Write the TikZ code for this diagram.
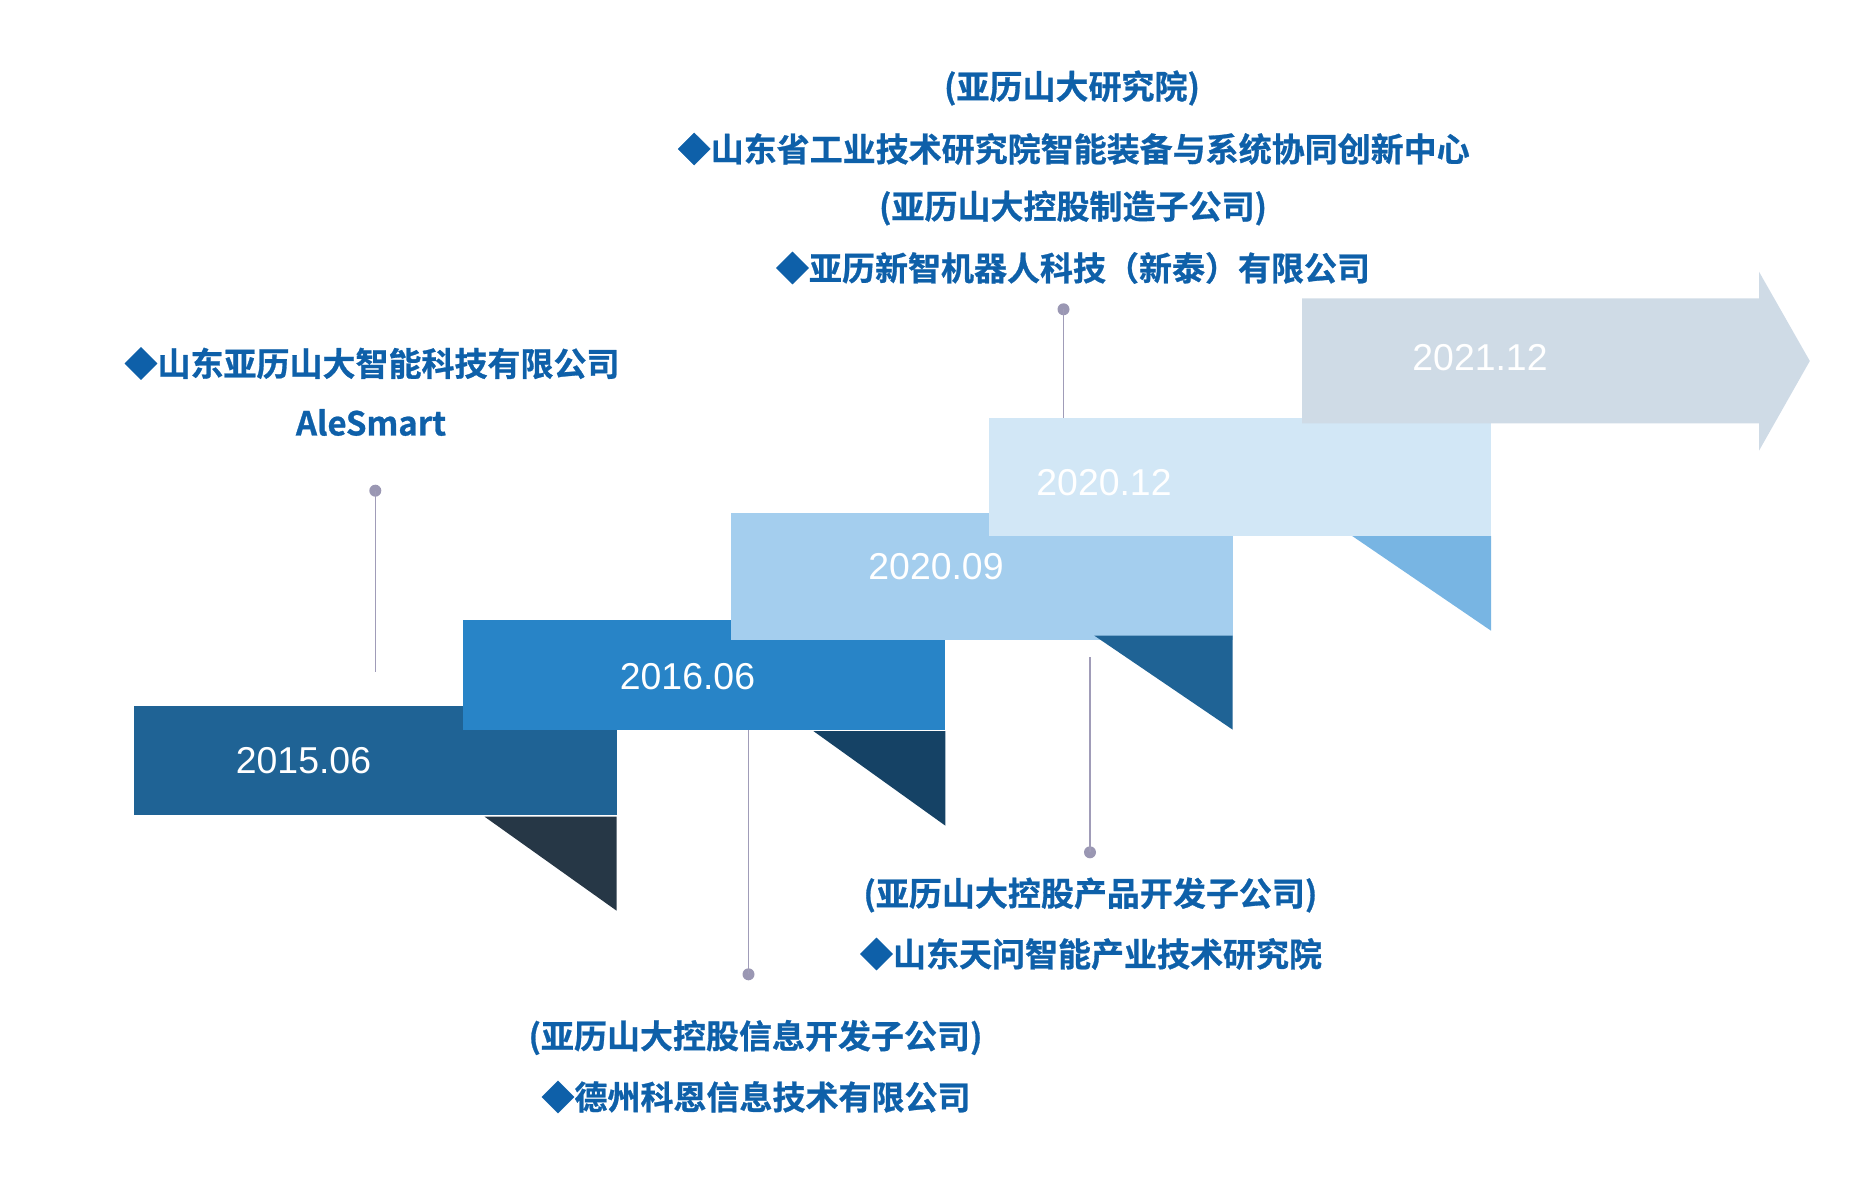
\documentclass[tikz,border=0pt]{standalone}
\usepackage{fontspec}
\setmainfont{Liberation Sans}
\newfontfamily\cjkb{Noto Sans CJK SC Bold}[FakeBold=0.8]
\definecolor{cA}{HTML}{1F6395}
\definecolor{tA}{HTML}{263746}
\definecolor{cB}{HTML}{2884C7}
\definecolor{tB}{HTML}{154265}
\definecolor{cC}{HTML}{A4CEEE}
\definecolor{tC}{HTML}{1F6395}
\definecolor{cD}{HTML}{D2E7F6}
\definecolor{tD}{HTML}{78B5E3}
\definecolor{cE}{HTML}{CFDBE6}
\definecolor{txtblue}{HTML}{0E60A9}
\definecolor{dotgray}{HTML}{9A97B3}
\definecolor{linegray}{HTML}{A09CB8}
\begin{document}
\begin{tikzpicture}[x=1pt,y=-1pt,
  datelbl/.style={text=white,font=\fontsize{37.4}{40}\selectfont,inner sep=0pt,anchor=center},
  cjklbl/.style={text=txtblue,font=\cjkb\fontsize{33}{40}\selectfont,inner sep=0pt,anchor=center},
  dotnode/.style={circle,fill=dotgray,inner sep=0pt,minimum size=12pt},
  stem/.style={draw=linegray,line width=1.5pt}]
\useasboundingbox (0,0) rectangle (1864,1182);

% stems and dots
\node[dotnode] (d1) at (375.3,490.7) {};
\coordinate (e1) at (375.3,671.7);
\node[dotnode] (d2) at (748.5,974.3) {};
\coordinate (e2) at (748.5,729.5);
\node[dotnode] (d3) at (1090,852.3) {};
\coordinate (e3) at (1090,657.3);
\node[dotnode] (d4) at (1063.5,309.3) {};
\coordinate (e4) at (1063.5,418);
\draw[stem] (d1.center) -- (e1);
\draw[stem] (e2) -- (d2.center);
\draw[stem] (e3) -- (d3.center);
\draw[stem] (d4.center) -- (e4);

% steps
\fill[cA] (134,706) rectangle (616.6,814.7);
\fill[tA] (484.6,816.7) -- (616.6,816.7) -- (616.6,910.7) -- cycle;
\fill[cB] (462.8,620) rectangle (945.4,729.5);
\fill[tB] (813.3,731) -- (945.4,731) -- (945.4,825.7) -- cycle;
\fill[cC] (731,513) rectangle (1232.7,639.5);
\fill[tC] (1094.4,635.7) -- (1232.7,635.7) -- (1232.7,729.7) -- cycle;
\fill[cD] (989,418) rectangle (1491,536);
\fill[tD] (1352.2,536) -- (1491,536) -- (1491,630.7) -- cycle;
\fill[cE] (1302,298.3) -- (1759,298.3) -- (1759,271.7) -- (1809.8,361) -- (1759,450.7) -- (1759,423.3) -- (1302,423.3) -- cycle;

% dates
\node[datelbl] (y1) at (303.5,760.3) {2015.06};
\node[datelbl] (y2) at (687.5,676.7) {2016.06};
\node[datelbl] (y3) at (936,566.7) {2020.09};
\node[datelbl] (y4) at (1104,483) {2020.12};
\node[datelbl] (y5) at (1480,357.5) {2021.12};

% labels
\node[cjklbl] (l1a) at (372,363.5) {◆山东亚历山大智能科技有限公司};
\node[cjklbl] (l1b) at (371,422.5) {AleSmart};
\node[cjklbl] (l4a) at (1072,88) {(亚历山大研究院)};
\node[cjklbl] (l4b) at (1073.7,149) {◆山东省工业技术研究院智能装备与系统协同创新中心};
\node[cjklbl] (l4c) at (1073,208) {(亚历山大控股制造子公司)};
\node[cjklbl] (l4d) at (1073,268) {◆亚历新智机器人科技（新泰）有限公司};
\node[cjklbl] (l3a) at (1090.4,895) {(亚历山大控股产品开发子公司)};
\node[cjklbl] (l3b) at (1091,954) {◆山东天问智能产业技术研究院};
\node[cjklbl] (l2a) at (755.5,1037.5) {(亚历山大控股信息开发子公司)};
\node[cjklbl] (l2b) at (756,1097) {◆德州科恩信息技术有限公司};
\end{tikzpicture}
\end{document}
